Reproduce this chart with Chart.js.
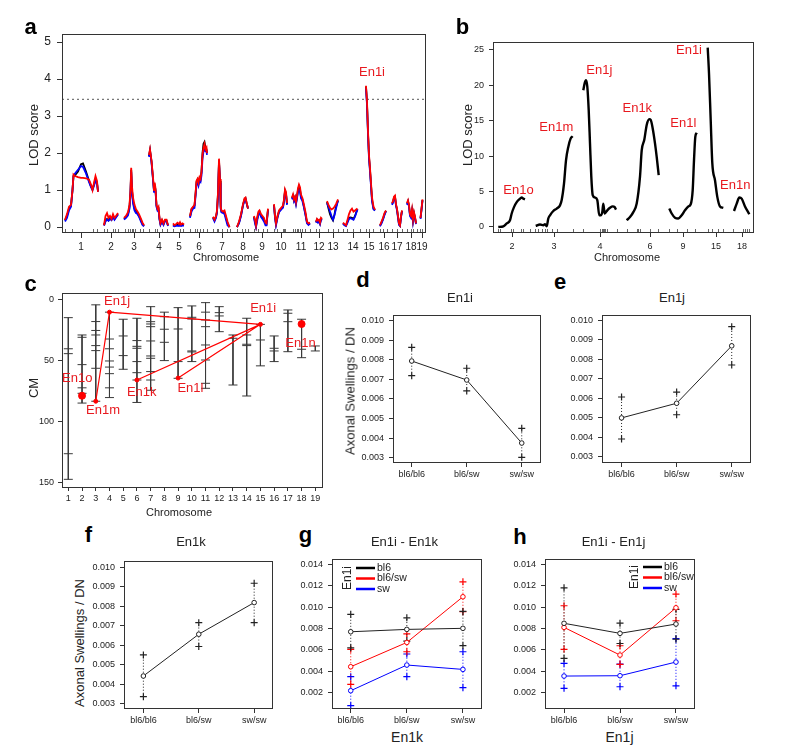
<!DOCTYPE html>
<html lang="en">
<head>
<meta charset="UTF-8">
<title>En1 QTL figure</title>
<script src="https://cdn.jsdelivr.net/npm/chart.js@4.4.0/dist/chart.umd.min.js"></script>
<style>
  body { margin: 0; background: #fff; }
  #fig { position: relative; width: 787px; height: 748px; overflow: hidden; font-family: 'Liberation Sans', Arial, sans-serif; color: #222; }
  .t { position: absolute; white-space: nowrap; line-height: 1; transform: translate(-50%, -50%); }
  .rot { transform: translate(-50%, -50%) rotate(-90deg); }
  .L { font-weight: bold; font-size: 22px; color: #000; }
</style>
</head>
<body>
<div id="fig"></div>

<script>
// ---------- panel a: genome scan (LOD per chromosome) ----------
const chromNamesA = ['1','2','3','4','5','6','7','8','9','10','11','12','13','14','15','16','17','18','19'];
const chromMidA = [19,49,72,97,117,137,160,181,200,219,239,257,271,291,307,322,335,349,360];
const lodThreshold = 3.45;
const lodPosA = [
  [3,5,7,9,10.5,11.5,13,16,19,21,24,27,29,30.5,32,33.5,35,36],
  [42,43.5,45,46.5,48,49.5,51,52.5,54,56],
  [62,64,66,67.5,68.5,69.2,70,71,72.5,74,75.5,77,79,80.5,82],
  [87,88,89.5,91,92,92.7,93.5,94.5,95.5,96.5,97.5,98.5,100,101.5,103,104.5,106],
  [111,112.5,114,115.5,117,118,119,120.5,122],
  [128,129.5,131,132.5,133.5,134.5,135.5,136.5,137.5,138.5,139.5,140.5,141.5,142.5,143.5,144.5,145],
  [151,152.5,154,155,156,157,158,158.7,159.5,161,162.5,164,165.5,167.5],
  [175,177,179,181,182.5,183.5,184.5,186],
  [192,193,194,195,196.5,197.5,199,200.5,202,203.5,204.5,206],
  [212,213,214,215.5,217,218.5,220,221,222,223,224,225],
  [230,231,232,233,234,235,236,237,238,239,240.5,242,243.5,245,246.5,248],
  [254,255,256,257,258,259,260],
  [265,266.5,268,269.5,271,272.5,274,276],
  [281,282.5,284,285.5,287,288.5,290,291.5,293,294.5,295.5],
  [304,305,306,307,308,309,310,311.5,313],
  [318,319.5,321,322.5,324],
  [330,331,332,333,334,335,336,337,338,339,340],
  [345,346,347,348,349,350,351,352,353,354],
  [358.5,359.5,360.5]
];
const lodRedA = [
  [0.2,0.35,0.55,0.6,1.0,1.42,1.38,1.35,1.33,1.33,1.32,1.28,1.15,1.0,1.2,1.38,1.25,0.95],
  [0.05,0.3,0.38,0.25,0.3,0.22,0.35,0.25,0.3,0.38],
  [0.25,0.3,0.4,0.6,1.0,1.6,1.1,0.8,0.6,0.48,0.42,0.35,0.22,0.12,0.05],
  [1.95,2.1,1.8,1.35,1.0,1.2,1.05,0.6,0.5,0.55,0.25,0.1,0.2,0.1,0.2,0.2,0.05],
  [0.1,0.05,0.08,0.12,0.08,0.13,0.07,0.1,0.07],
  [0.3,0.5,0.55,0.6,0.9,1.25,1.3,1.2,1.35,1.3,1.5,1.95,2.15,2.25,2.1,2.15,2.0],
  [0.28,0.2,0.3,0.45,0.95,1.85,1.3,0.55,0.45,0.42,0.45,0.3,0.15,0.0],
  [0.0,0.15,0.35,0.62,0.78,0.8,0.68,0.5],
  [0.3,0.2,0.05,0.25,0.42,0.45,0.35,0.3,0.25,0.12,0.1,0.5],
  [0.62,0.3,0.1,0.3,0.45,0.5,0.55,0.58,0.75,1.02,0.95,0.65],
  [0.8,0.88,0.75,0.82,0.68,0.85,1.05,1.15,1.08,0.88,0.78,0.6,0.4,0.15,0.1,0.12],
  [0.15,0.22,0.18,0.2,0.12,0.25,0.22],
  [0.7,0.6,0.52,0.48,0.5,0.55,0.62,0.75],
  [0.12,0.08,0.05,0.2,0.35,0.45,0.5,0.42,0.45,0.48,0.5],
  [3.82,3.4,2.6,1.95,1.6,1.2,0.8,0.55,0.47],
  [0.05,0.15,0.25,0.38,0.45],
  [0.65,0.7,0.82,0.85,0.62,0.5,0.3,0.1,0.05,0.3,0.45],
  [0.65,0.72,0.6,0.35,0.3,0.48,0.2,0.4,0.28,0.1],
  [0.25,0.5,0.75]
];
const lodBlackA = [
  [0.18,0.3,0.5,0.58,1.0,1.38,1.4,1.5,1.7,1.72,1.5,1.25,1.1,1.02,1.15,1.3,1.2,0.97],
  [0.05,0.18,0.22,0.18,0.25,0.2,0.3,0.22,0.28,0.35],
  [0.22,0.28,0.35,0.55,0.95,1.55,1.0,0.7,0.5,0.42,0.38,0.3,0.18,0.08,0.03],
  [1.92,2.08,1.78,1.3,0.98,1.15,1.0,0.58,0.48,0.5,0.22,0.08,0.18,0.08,0.18,0.18,0.04],
  [0.06,0.04,0.05,0.06,0.05,0.07,0.05,0.06,0.05],
  [0.28,0.48,0.53,0.58,0.88,1.22,1.28,1.18,1.32,1.28,1.5,2.0,2.25,2.3,2.15,2.1,2.0],
  [0.26,0.18,0.28,0.42,0.9,1.8,1.25,0.52,0.42,0.4,0.4,0.25,0.1,0.0],
  [0.0,0.12,0.32,0.6,0.75,0.78,0.66,0.5],
  [0.28,0.15,0.02,0.2,0.38,0.42,0.3,0.25,0.2,0.1,0.08,0.48],
  [0.6,0.28,0.08,0.28,0.42,0.48,0.52,0.55,0.72,0.98,0.9,0.62],
  [0.78,0.85,0.72,0.8,0.65,0.82,1.0,1.1,1.02,0.82,0.74,0.55,0.35,0.12,0.08,0.1],
  [0.13,0.2,0.15,0.18,0.1,0.22,0.2],
  [0.68,0.5,0.35,0.25,0.18,0.35,0.55,0.72],
  [0.1,0.06,0.04,0.15,0.25,0.26,0.25,0.22,0.3,0.42,0.48],
  [3.8,3.35,2.55,1.9,1.55,1.15,0.75,0.5,0.45],
  [0.04,0.12,0.22,0.35,0.44],
  [0.63,0.68,0.8,0.82,0.6,0.48,0.28,0.08,0.04,0.28,0.44],
  [0.63,0.7,0.58,0.33,0.28,0.45,0.18,0.38,0.26,0.1],
  [0.24,0.48,0.73]
];
const lodBlueA = [
  [0.15,0.25,0.45,0.55,1.0,1.38,1.45,1.55,1.65,1.63,1.45,1.22,1.08,1.0,1.12,1.25,1.18,0.95],
  [0.04,0.15,0.2,0.17,0.22,0.19,0.28,0.2,0.26,0.34],
  [0.2,0.25,0.32,0.5,0.9,1.5,0.95,0.65,0.45,0.38,0.35,0.28,0.15,0.06,0.02],
  [1.9,2.05,1.75,1.28,0.95,1.12,0.98,0.55,0.45,0.48,0.2,0.06,0.15,0.06,0.16,0.16,0.03],
  [0.04,0.02,0.03,0.04,0.03,0.05,0.03,0.04,0.04],
  [0.25,0.42,0.5,0.52,0.82,1.15,1.22,1.12,1.25,1.22,1.4,1.85,2.05,2.1,2.05,2.05,1.95],
  [0.24,0.15,0.25,0.4,0.85,1.75,1.2,0.5,0.4,0.38,0.35,0.2,0.05,0.0],
  [0.0,0.1,0.3,0.58,0.72,0.76,0.65,0.5],
  [0.25,0.1,0.0,0.15,0.35,0.4,0.28,0.22,0.15,0.05,0.05,0.45],
  [0.58,0.25,0.05,0.25,0.4,0.45,0.5,0.52,0.7,0.95,0.88,0.6],
  [0.75,0.82,0.7,0.78,0.62,0.78,0.95,1.0,0.95,0.78,0.7,0.52,0.32,0.1,0.06,0.1],
  [0.12,0.18,0.12,0.15,0.08,0.2,0.18],
  [0.65,0.55,0.42,0.3,0.2,0.32,0.5,0.72],
  [0.1,0.05,0.03,0.12,0.22,0.24,0.22,0.2,0.28,0.4,0.48],
  [3.75,3.3,2.5,1.85,1.5,1.1,0.7,0.48,0.45],
  [0.02,0.1,0.2,0.33,0.43],
  [0.6,0.66,0.78,0.8,0.58,0.45,0.25,0.06,0.03,0.26,0.43],
  [0.6,0.68,0.55,0.3,0.25,0.42,0.15,0.35,0.24,0.08],
  [0.22,0.46,0.72]
];
const markerPosA = [3,9.7,31.3,34.7,42,45.3,51.3,53,56.3,63,65.7,68,69.7,70.7,73,78,81.3,87.3,93,94.7,99.7,104.7,
  111.3,118,121.3,128,133,134.7,138,141.3,144.7,151.3,154.7,156.3,159.7,164.7,168,175.3,179.7,183,186.3,192,196.3,
  201.3,204.7,212,214.7,220.7,222,223.3,231.3,233,234.7,236.3,238,239.7,243,248,254,257.3,266.3,271.3,276.3,281.3,
  284.7,291.3,298,304,307.3,311.3,318,320.7,324.7,329.7,334.7,339.7,345.3,349,351.3,354.7,358,360];

// ---------- panel b: conditional scans ----------
const chromNamesB = ['2','3','4','6','9','15','18'];
const chromMidB = [19,61,107,157,190,223,249];
const lodPosB = [
  [5.3,10.3,13.7,17,18.7,21,23.7,26.3,28.7,30.3,32],
  [42.7,47,50.3,52,53.7,55.3,57,60.3,63.7,67,68.7,71,73,75.3,77.7,79.7],
  [90.3,91.7,93,94.3,95.7,97,98.3,99.7,102,104.3,106.3,107.7,109.3,110.3,111.7,114.3,117,119.7,121.7,123],
  [133.7,137,140.3,143.7,147,148.7,151.3,153.7,156.3,157.7,159.7,162,163.7,165.7],
  [176.3,178.7,182,185.3,188.7,192,195.3,197.7,199.7,201,202.3,203.7],
  [214.7,216,217.7,219.3,222,224.3,227,230.3],
  [241,243.7,246.3,248.7,252,256.3]
];
const lodValB = [
  [0,0.1,0.5,0.95,1.9,2.8,3.5,3.9,4.15,4.0,3.9],
  [0.15,0.35,0.25,0.4,0.1,1.2,1.65,2.25,2.6,3.05,3.8,6.1,9.4,11.3,12.5,12.8],
  [19.3,20.3,20.7,19.8,16.5,11.8,7.1,4.5,4.15,3.8,1.65,1.65,2.1,3.3,1.9,2.35,2.7,2.9,2.8,2.45],
  [0.95,1.4,2.1,3.3,7.1,10.8,12.3,14.4,15.2,15.1,13.9,11.8,9.9,7.3],
  [2.6,1.9,1.3,1.2,1.65,2.35,2.9,3.2,5.2,9.4,12.7,13.3],
  [25.3,21.7,15.1,9.0,6.6,4.25,2.9,2.7],
  [2.25,3.3,4.15,4.0,2.9,1.8]
];
const markerPosB = [5.3,7,17.7,20.3,27.7,30.3,37,42,44.7,48.7,52,54.3,58.7,63.7,79.7,90.3,107,108.7,109.7,111,
  112.3,113.7,123.7,133.7,143.7,145.3,147,157,165.3,176.3,183.7,193.7,202,215.3,218.7,225.3,230.3,240.3,250.3,
  252,253.7,256.3];
const qtlLabelsB = [
  ['En1o',25.5,5.2],['En1m',63.3,14.0],['En1j',106.3,22.1],['En1k',144.3,16.7],
  ['En1l',190.3,14.6],['En1i',196,24.9],['En1n',242.3,5.9]
];

// ---------- panel c: genetic map (cM) ----------
const chromC = [1,2,3,4,5,6,7,8,9,10,11,12,13,14,15,16,17,18,19];
const markersC = [
  [14.5,40,44,126,147],
  [28.7,30.6,53,72,76.5,84.5],
  [4,17.7,25,28.7,37.4,41.5,56,83],
  [10,32,40,50,55,60.4,72,80],
  [15.8,29.5,45.6,56.8],
  [15,33.3,38,39.6,50.5,59.6,65.6,84],
  [5.5,17.8,19.7,21.9,33.6,45.9,47.8,58.7,65.6,74],
  [10,13.7,24,34.7,49.7],
  [6.3,23.8,50.5,64.2],
  [4.9,14.2,15.6,41.8,42.6,50.5],
  [2.2,10,16.4,21.9,36.9,49.2,68.3,72.4],
  [5.5,10.4,13.1,26],
  [28.7,31.4,69.7],
  [15,28.7,36.3,37.4,78.7],
  [20,32.8,54],
  [29.5,39.6,41.8,50.5],
  [8.2,10.9,17.8,42.4],
  [15.8,40.4,47.3],
  [37.7,41.8]
];
const qtlChrC = { En1i: 15, En1j: 4, En1k: 6, En1l: 9, En1m: 3, En1n: 18, En1o: 2 };
const qtlCmC  = { En1i: 20, En1j: 10, En1k: 65.6, En1l: 64, En1m: 83, En1n: 19.7, En1o: 78.5 };
const qtlLinksC = [['En1m','En1j'],['En1j','En1i'],['En1k','En1i'],['En1l','En1i']];
const qtlSmallC = ['En1i','En1j','En1k','En1l','En1m'];
const qtlBigC = ['En1n','En1o'];
const qtlLabelsC = [
  ['En1j',4.55,1.4],['En1o',1.65,64.2],['En1m',3.53,90.2],['En1k',6.35,75.7],
  ['En1l',9.9,72.4],['En1i',15.2,6.8],['En1n',17.92,35.5]
];

// ---------- panels d-h: genotype means ----------
const genoLabels = ['bl6/bl6','bl6/sw','sw/sw'];
const dMean = [0.00794,0.00697,0.00375], dHi = [0.00864,0.00757,0.0045], dLo = [0.00719,0.00641,0.00302];
const eMean = [0.00499,0.00574,0.00868], eHi = [0.00606,0.00631,0.00966], eLo = [0.00391,0.00515,0.0077];
const fMean = [0.00443,0.00657,0.00819], fHi = [0.00551,0.00716,0.00918], fLo = [0.00337,0.00594,0.00716];

const legendNames = ['bl6','bl6/sw','sw'];
const gMean = [[0.0077,0.00792,0.00802],[0.00443,0.0067,0.01097],[0.00219,0.00459,0.00418]];
const gHi   = [[0.00933,0.009,0.0096],[0.00606,0.00751,0.01237],[0.0035,0.00562,0.00583]];
const gLo   = [[0.0062,0.00683,0.0064],[0.00279,0.00583,0.00957],[0.00079,0.0035,0.00247]];
const hMean = [[0.00849,0.00755,0.00842],[0.00811,0.00552,0.00994],[0.00356,0.00359,0.00487]];
const hHi   = [[0.01181,0.0085,0.0098],[0.01013,0.00639,0.01122],[0.00475,0.00468,0.00705]];
const hLo   = [[0.00521,0.0066,0.0070],[0.00606,0.00465,0.00873],[0.00241,0.00256,0.00265]];

// ---------- helpers ----------
const FONT = "'Liberation Sans', Arial, sans-serif";
Chart.defaults.font.family = FONT;
Chart.defaults.color = '#222';
const RED = '#ff0000', TXTRED = '#e8191f', BLUE = '#0000ff';
const lineCols = ['#000000', RED, BLUE];
const fig = document.getElementById('fig');

function label(text, x, y, size, cls, color) {
  const d = document.createElement('div');
  d.className = 't ' + (cls || '');
  d.style.left = x + 'px';
  d.style.top = y + 'px';
  if (size) d.style.fontSize = size + 'px';
  if (color) d.style.color = color;
  d.textContent = text;
  fig.appendChild(d);
}

const boxPlugin = {
  id: 'box',
  afterDatasetsDraw(chart) {
    const a = chart.chartArea, c = chart.ctx;
    c.save();
    c.strokeStyle = '#333';
    c.lineWidth = 1;
    c.strokeRect(Math.round(a.left) + 0.5, Math.round(a.top) + 0.5,
      Math.round(a.right - a.left) - 1, Math.round(a.bottom - a.top) - 1);
    c.restore();
  }
};

function notes(list, size, color) {
  return {
    id: 'notes',
    afterDatasetsDraw(chart) {
      const { ctx, scales: { x, y } } = chart;
      ctx.save();
      ctx.font = size + 'px ' + FONT;
      ctx.fillStyle = color;
      ctx.textAlign = 'center';
      ctx.textBaseline = 'middle';
      list.forEach(t => ctx.fillText(t[0], x.getPixelForValue(t[1]), y.getPixelForValue(t[2])));
      ctx.restore();
    }
  };
}

function rug(list) {
  return {
    id: 'rug',
    afterDatasetsDraw(chart) {
      const { ctx, chartArea, scales: { x } } = chart;
      ctx.save();
      ctx.strokeStyle = '#666';
      ctx.lineWidth = 1;
      ctx.beginPath();
      list.forEach(v => {
        const px = Math.round(x.getPixelForValue(v)) + 0.5;
        ctx.moveTo(px, chartArea.bottom - 1);
        ctx.lineTo(px, chartArea.bottom - 4);
      });
      ctx.stroke();
      ctx.restore();
    }
  };
}

function legendBox(dx, dy) {
  return {
    id: 'leg',
    afterDatasetsDraw(chart) {
      const { ctx, chartArea } = chart;
      const x0 = chartArea.left + dx, y0 = chartArea.top + dy;
      ctx.save();
      ctx.fillStyle = '#222';
      ctx.textBaseline = 'middle';
      ctx.save();
      ctx.translate(x0, y0 + 10);
      ctx.rotate(-Math.PI / 2);
      ctx.textAlign = 'center';
      ctx.font = '12px ' + FONT;
      ctx.fillText('En1i', 0, 0);
      ctx.restore();
      ctx.font = '10.5px ' + FONT;
      legendNames.forEach((n, i) => {
        const yy = y0 + i * 10.5;
        ctx.strokeStyle = lineCols[i];
        ctx.lineWidth = 2.5;
        ctx.beginPath();
        ctx.moveTo(x0 + 8, yy);
        ctx.lineTo(x0 + 27, yy);
        ctx.stroke();
        ctx.textAlign = 'left';
        ctx.fillText(n, x0 + 29, yy);
      });
      ctx.restore();
    }
  };
}

function axis(o) {
  return {
    type: 'linear', min: o.min, max: o.max, reverse: !!o.reverse,
    grid: { drawOnChartArea: false, drawTicks: true, tickLength: o.tl || 4, color: '#333', lineWidth: 1 },
    border: { display: false },
    ticks: {
      autoSkip: false, maxRotation: 0, padding: o.pad || 3, color: '#222',
      font: { size: o.fs },
      callback: (v, i) => o.labels[i]
    },
    afterBuildTicks: s => { s.ticks = o.ticks.map(v => ({ value: v })); },
    afterFit: s => {
      if (o.horiz) s.height = o.size; else s.width = o.size;
      s.paddingLeft = 0; s.paddingRight = 0; s.paddingTop = 0; s.paddingBottom = 0;
    }
  };
}

function makeChart(box, m, datasets, xAxis, yAxis, extra) {
  const cv = document.createElement('canvas');
  cv.width = box[2] - box[0] + m.l + m.r;
  cv.height = box[3] - box[1] + m.t + m.b;
  cv.style.cssText = 'position:absolute;left:' + (box[0] - m.l) + 'px;top:' + (box[1] - m.t) + 'px';
  fig.appendChild(cv);
  xAxis.horiz = true; xAxis.size = m.b;
  yAxis.size = m.l;
  return new Chart(cv, {
    type: 'line',
    data: { datasets },
    options: {
      responsive: false, animation: false, events: [],
      layout: { padding: { top: m.t, right: m.r, left: 0, bottom: 0 } },
      plugins: { legend: { display: false }, tooltip: { enabled: false } },
      elements: { line: { fill: false } },
      scales: { x: axis(xAxis), y: axis(yAxis) }
    },
    plugins: [boxPlugin].concat(extra || [])
  });
}

function segments(posList, valList) {
  const pts = [];
  posList.forEach((ps, c) => {
    ps.forEach((p, i) => pts.push({ x: p, y: valList[c][i] }));
    pts.push({ x: ps[ps.length - 1] + 0.01, y: null });
  });
  return pts;
}

// ---------- panel a ----------
makeChart([62, 34, 426, 233], { l: 40, t: 6, r: 6, b: 20 }, [
  { data: segments(lodPosA, lodRedA), borderColor: RED, borderWidth: 1.8, pointRadius: 0, tension: 0, order: 1 },
  { data: segments(lodPosA, lodBlueA), borderColor: BLUE, borderWidth: 1.8, pointRadius: 0, tension: 0, order: 2 },
  { data: segments(lodPosA, lodBlackA), borderColor: '#000', borderWidth: 1.8, pointRadius: 0, tension: 0, order: 3 },
  { data: [{ x: 0, y: lodThreshold }, { x: 364, y: lodThreshold }], borderColor: '#777', borderWidth: 1.2,
    borderDash: [2, 3], pointRadius: 0, order: 4 }
],
  { min: 0, max: 364, ticks: chromMidA, labels: chromNamesA, fs: 10, tl: 5, pad: 3 },
  { min: -0.16, max: 5.22, ticks: [0, 1, 2, 3, 4, 5], labels: ['0', '1', '2', '3', '4', '5'], fs: 12, tl: 5, pad: 6 },
  [rug(markerPosA), notes([['En1i', 310, 4.19]], 13, TXTRED)]);

// ---------- panel b ----------
makeChart([493, 42, 754, 233], { l: 30, t: 6, r: 6, b: 20 }, [
  { data: segments(lodPosB, lodValB), borderColor: '#000', borderWidth: 2.4, pointRadius: 0,
    cubicInterpolationMode: 'monotone' }
],
  { min: 0, max: 261, ticks: chromMidB, labels: chromNamesB, fs: 9, tl: 4, pad: 4 },
  { min: -0.85, max: 26.1, ticks: [0, 5, 10, 15, 20, 25], labels: ['0', '5', '10', '15', '20', '25'], fs: 9, tl: 4, pad: 5 },
  [rug(markerPosB), notes(qtlLabelsB, 13, TXTRED)]);

// ---------- panel c ----------
const barPts = [], tickPts = [];
markersC.forEach((ms, i) => {
  const c = chromC[i];
  barPts.push({ x: c, y: Math.min(...ms) }, { x: c, y: Math.max(...ms) }, { x: c + 0.01, y: null });
  ms.forEach(v => tickPts.push({ x: c, y: v }));
});
const linkPts = [];
qtlLinksC.forEach(([p, q]) => {
  linkPts.push({ x: qtlChrC[p], y: qtlCmC[p] }, { x: qtlChrC[q], y: qtlCmC[q] }, { x: qtlChrC[q], y: null });
});
makeChart([62, 293, 323, 488], { l: 30, t: 6, r: 6, b: 18 }, [
  { data: qtlBigC.map(k => ({ x: qtlChrC[k], y: qtlCmC[k] })), showLine: false, pointRadius: 3.5,
    pointBackgroundColor: RED, pointBorderColor: RED, order: 1 },
  { data: qtlSmallC.map(k => ({ x: qtlChrC[k], y: qtlCmC[k] })), showLine: false, pointRadius: 2,
    pointBackgroundColor: RED, pointBorderColor: RED, order: 2 },
  { data: linkPts, borderColor: RED, borderWidth: 1.2, pointRadius: 0, tension: 0, order: 3 },
  { data: tickPts, showLine: false, pointStyle: 'line', pointRadius: 4.5, pointBorderWidth: 1,
    pointBorderColor: '#3a3a3a', order: 4 },
  { data: barPts, borderColor: '#3a3a3a', borderWidth: 1, pointRadius: 0, tension: 0, order: 5 }
],
  { min: 0.54, max: 19.56, ticks: chromC, labels: chromC.map(String), fs: 9, tl: 3, pad: 2 },
  { min: -5.7, max: 154.1, reverse: true, ticks: [0, 50, 100, 150], labels: ['0', '50', '100', '150'], fs: 9, tl: 4, pad: 4 },
  [notes(qtlLabelsC, 13, TXTRED)]);

// ---------- panels d, e, f ----------
function whisker(lo, hi) {
  const pts = [];
  lo.forEach((v, i) => pts.push({ x: i, y: v }, { x: i, y: hi[i] }, { x: i + 0.01, y: null }));
  return pts;
}
function meanSets(mean, lo, hi, col, order) {
  return [
    { data: mean.map((v, i) => ({ x: i, y: v })), borderColor: col, borderWidth: 1, tension: 0,
      pointRadius: 2.3, pointBorderWidth: 1, pointBorderColor: col, pointBackgroundColor: '#fff', order: order },
    { data: whisker(lo, hi), borderColor: col, borderWidth: 1, borderDash: [1, 2], tension: 0,
      pointStyle: 'cross', pointRadius: 3.5, pointBorderWidth: 1.2, pointBorderColor: col, order: order + 10 }
  ];
}
const yTicks1 = [0.003, 0.004, 0.005, 0.006, 0.007, 0.008, 0.009, 0.010];
const yTicks2 = [0.002, 0.004, 0.006, 0.008, 0.010, 0.012, 0.014];
const fmt = v => v.toFixed(3);

makeChart([393, 315, 541, 463], { l: 36, t: 6, r: 6, b: 20 }, meanSets(dMean, dLo, dHi, '#222', 1),
  { min: -0.34, max: 2.35, ticks: [0, 1, 2], labels: genoLabels, fs: 9, tl: 4, pad: 2 },
  { min: 0.00273, max: 0.01029, ticks: yTicks1, labels: yTicks1.map(fmt), fs: 9, tl: 4, pad: 5 });

makeChart([602, 315, 751, 463], { l: 36, t: 6, r: 6, b: 20 }, meanSets(eMean, eLo, eHi, '#222', 1),
  { min: -0.355, max: 2.35, ticks: [0, 1, 2], labels: genoLabels, fs: 9, tl: 4, pad: 2 },
  { min: 0.00268, max: 0.01026, ticks: yTicks1, labels: yTicks1.map(fmt), fs: 9, tl: 4, pad: 5 });

makeChart([124, 561, 273, 709], { l: 36, t: 6, r: 6, b: 20 }, meanSets(fMean, fLo, fHi, '#222', 1),
  { min: -0.35, max: 2.34, ticks: [0, 1, 2], labels: genoLabels, fs: 9, tl: 4, pad: 2 },
  { min: 0.00274, max: 0.01032, ticks: yTicks1, labels: yTicks1.map(fmt), fs: 9, tl: 4, pad: 5 });

// ---------- panels g, h ----------
function interSets(mean, lo, hi) {
  let out = [];
  mean.forEach((m, k) => { out = out.concat(meanSets(m, lo[k], hi[k], k === 0 ? '#222' : lineCols[k], k + 1)); });
  return out;
}
makeChart([332, 559, 482, 709], { l: 36, t: 6, r: 6, b: 20 }, interSets(gMean, gLo, gHi),
  { min: -0.334, max: 2.34, ticks: [0, 1, 2], labels: genoLabels, fs: 9, tl: 4, pad: 2 },
  { min: 0.00048, max: 0.0145, ticks: yTicks2, labels: yTicks2.map(fmt), fs: 9, tl: 4, pad: 5 },
  [legendBox(16, 9)]);

makeChart([545, 559, 695, 709], { l: 36, t: 6, r: 6, b: 20 }, interSets(hMean, hLo, hHi),
  { min: -0.34, max: 2.34, ticks: [0, 1, 2], labels: genoLabels, fs: 9, tl: 4, pad: 2 },
  { min: 0.00048, max: 0.0145, ticks: yTicks2, labels: yTicks2.map(fmt), fs: 9, tl: 4, pad: 5 },
  [legendBox(90, 8)]);

// ---------- text ----------
label('a', 30.5, 27.2, null, 'L');
label('b', 462.5, 27.2, null, 'L');
label('c', 30.5, 283.9, null, 'L');
label('d', 363, 280.2, null, 'L');
label('e', 560, 282.2, null, 'L');
label('f', 88.5, 535.2, null, 'L');
label('g', 305.5, 535.2, null, 'L');
label('h', 520, 537.2, null, 'L');

label('LOD score', 33, 135, 13, 'rot');
label('LOD score', 467, 135, 13, 'rot');
label('Chromosome', 226, 257, 11);
label('Chromosome', 627, 257, 11);
label('Chromosome', 179, 512, 11);
label('CM', 33, 388, 13, 'rot');
label('Axonal Swellings / DN', 350, 391, 13, 'rot');
label('Axonal Swellings / DN', 79, 643, 13, 'rot');

label('En1i', 460, 296.5, 13);
label('En1j', 672, 296.5, 13);
label('En1k', 191, 540.5, 13);
label('En1i - En1k', 404.5, 540.5, 13);
label('En1i - En1j', 613.5, 540.5, 13);
label('En1k', 407, 737, 14);
label('En1j', 619.5, 737, 14);
</script>
</body>
</html>
